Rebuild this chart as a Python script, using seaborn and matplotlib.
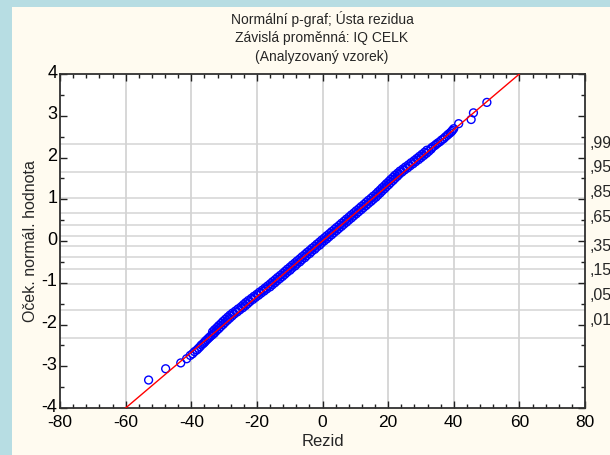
import matplotlib
matplotlib.use("Agg")
import matplotlib.pyplot as plt
import matplotlib.transforms as mtransforms
from matplotlib import font_manager
from matplotlib.patches import Rectangle
from matplotlib.ticker import MultipleLocator
from statistics import NormalDist
import numpy as np
import pandas as pd
import seaborn as sns

# ---------------- data ----------------
title_lines = ["Normální p-graf; Ústa rezidua",
               "Závislá proměnná: IQ CELK",
               "(Analyzovaný vzorek)"]
x_label = "Rezid"
y_label = "Oček. normál. hodnota"
x_ticks = [-80, -60, -40, -20, 0, 20, 40, 60, 80]
y_ticks = [-4, -3, -2, -1, 0, 1, 2, 3, 4]
prob_grid = [0.01, 0.05, 0.15, 0.25, 0.35, 0.45, 0.55, 0.65, 0.75, 0.85, 0.95, 0.99]
right_labels = [",99", ",95", ",85", ",65", ",35", ",15", ",05", ",01"]
resid_mean = 0.0
resid_sd = 15.0

tail_low_z = [-3.33, -3.06, -2.92, -2.82, -2.74, -2.70, -2.65, -2.61, -2.57, -2.53,
              -2.49, -2.46, -2.43, -2.40, -2.37, -2.34, -2.31, -2.28, -2.25, -2.22]
tail_low_r = [-53.0, -47.8, -43.2, -41.4, -40.3, -39.6, -39.0, -38.3, -37.8, -37.3,
              -36.9, -36.4, -36.0, -35.7, -35.3, -34.9, -34.5, -34.1, -33.6, -33.2]

band_z = [-2.200, -2.175, -2.150, -2.125, -2.100, -2.075, -2.050, -2.025, -2.000, -1.975,
          -1.950, -1.925, -1.900, -1.875, -1.850, -1.825, -1.800, -1.775, -1.750, -1.725,
          -1.700, -1.675, -1.650, -1.625, -1.600, -1.575, -1.550, -1.525, -1.500, -1.475,
          -1.450, -1.425, -1.400, -1.375, -1.350, -1.325, -1.300, -1.275, -1.250, -1.225,
          -1.200, -1.175, -1.150, -1.125, -1.100, -1.075, -1.050, -1.025, -1.000, -0.975,
          -0.950, -0.925, -0.900, -0.875, -0.850, -0.825, -0.800, -0.775, -0.750, -0.725,
          -0.700, -0.675, -0.650, -0.625, -0.600, -0.575, -0.550, -0.525, -0.500, -0.475,
          -0.450, -0.425, -0.400, -0.375, -0.350, -0.325, -0.300, -0.275, -0.250, -0.225,
          -0.200, -0.175, -0.150, -0.125, -0.100, -0.075, -0.050, -0.025, 0.000, 0.025,
          0.050, 0.075, 0.100, 0.125, 0.150, 0.175, 0.200, 0.225, 0.250, 0.275,
          0.300, 0.325, 0.350, 0.375, 0.400, 0.425, 0.450, 0.475, 0.500, 0.525,
          0.550, 0.575, 0.600, 0.625, 0.650, 0.675, 0.700, 0.725, 0.750, 0.775,
          0.800, 0.825, 0.850, 0.875, 0.900, 0.925, 0.950, 0.975, 1.000, 1.025,
          1.050, 1.075, 1.100, 1.125, 1.150, 1.175, 1.200, 1.225, 1.250, 1.275,
          1.300, 1.325, 1.350, 1.375, 1.400, 1.425, 1.450, 1.475, 1.500, 1.525,
          1.550, 1.575, 1.600, 1.625, 1.650, 1.675, 1.700, 1.725, 1.750, 1.775,
          1.800, 1.825, 1.850, 1.875, 1.900, 1.925, 1.950, 1.975, 2.000, 2.025,
          2.050, 2.075, 2.100, 2.125, 2.150, 2.175, 2.200]
band_r = [-32.9, -33.5, -32.3, -32.9, -31.6, -32.2, -31.0, -31.6, -30.3, -30.9,
          -29.7, -30.3, -29.0, -29.6, -28.3, -28.9, -27.6, -28.2, -26.9, -27.4,
          -26.0, -26.5, -25.2, -25.7, -24.3, -24.8, -23.5, -24.1, -22.8, -23.4,
          -22.1, -22.6, -21.2, -21.7, -20.4, -20.9, -19.5, -20.0, -18.7, -19.2,
          -17.8, -18.3, -17.0, -17.5,
          -16.0, -16.7, -15.3, -15.9, -14.5, -15.2, -13.8, -14.4, -13.0, -13.7,
          -12.2, -12.9, -11.5, -12.1, -10.8, -11.4, -9.9, -10.7, -9.3, -9.9,
          -8.4, -9.2, -7.8, -8.4, -6.9, -7.7, -6.3, -6.9, -5.4, -6.2,
          -4.8, -5.4, -3.9, -4.7, -3.3, -3.9, -2.4, -3.2, -1.8, -2.4,
          -0.9, -1.7, -0.3, -0.9, 0.5, -0.2, 1.3, 0.6, 2.0, 1.3,
          2.8, 2.1, 3.5, 2.8, 4.3, 3.6, 5.0, 4.3, 5.8, 5.1,
          6.5, 5.8, 7.3, 6.6, 8.0, 7.3, 8.8, 8.1, 9.5, 8.8,
          10.3, 9.6, 11.0, 10.3, 11.8, 11.1, 12.5, 11.8, 13.3, 12.6,
          14.0, 13.3, 14.8, 14.0, 15.5, 14.8, 16.3, 15.5, 16.9,
          16.3, 17.6, 16.9, 18.2, 17.6, 18.9, 18.2, 19.5, 18.9, 20.2,
          19.5, 20.8, 20.2, 21.5, 20.8, 22.1, 21.5, 22.8, 22.1, 23.4,
          22.9, 24.2, 23.6, 25.0, 24.5, 25.9, 25.3, 26.7, 26.2, 27.6,
          27.0, 28.4, 27.9, 29.3, 28.7, 30.1, 29.5, 30.9, 30.3, 31.7,
          31.1, 32.4, 31.8, 33.1]

tail_high_z = [2.23, 2.26, 2.29, 2.32, 2.35, 2.38, 2.42, 2.45, 2.49, 2.53,
               2.56, 2.59, 2.62, 2.65, 2.69, 2.81, 2.91, 3.07, 3.32]
tail_high_r = [33.2, 33.7, 34.3, 34.7, 35.2, 35.8, 36.3, 36.9, 37.4, 38.0,
               38.4, 38.9, 39.3, 39.6, 40.0, 41.5, 45.3, 46.0, 50.1]

# ---------------- build tables ----------------
df = pd.DataFrame({
    "resid": tail_low_r + band_r + tail_high_r,
    "expected": tail_low_z + band_z + tail_high_z,
})
line_x = np.array([x_ticks[0], x_ticks[-1]], dtype=float)
line_df = pd.DataFrame({"resid": line_x, "expected": (line_x - resid_mean) / resid_sd})

# ---------------- style ----------------
sns.set_style("white")
avail = {f.name for f in font_manager.fontManager.ttflist}
fam = [f for f in ["Liberation Sans Narrow", "Liberation Sans", "DejaVu Sans"] if f in avail]
plt.rcParams["font.family"] = fam

OUTER = "#b7dde3"
CREAM = "#fffbf0"
W, H = 610, 455

fig = plt.figure(figsize=(W / 100, H / 100), dpi=100)
fig.patch.set_facecolor(OUTER)
fig.patches.append(Rectangle((12 / W, 0), 1, 1 - 7 / H, transform=fig.transFigure,
                             facecolor=CREAM, edgecolor="none", zorder=-10))

left, right, top, bottom = 60, 585, 74, 408
ax = fig.add_axes([left / W, 1 - bottom / H, (right - left) / W, (bottom - top) / H])
ax.set_facecolor("white")

# grid
for xv in x_ticks[1:-1]:
    ax.axvline(xv, color="#d4d4d4", lw=1.3, zorder=0)
nd = NormalDist()
for p in prob_grid:
    ax.axhline(nd.inv_cdf(p), color="#d4d4d4", lw=1.1, zorder=0)

sns.scatterplot(data=df, x="resid", y="expected", ax=ax, marker="o", s=32,
                facecolors="none", edgecolor="#0000ff", linewidth=1.0, zorder=3,
                legend=False)
sns.lineplot(data=line_df, x="resid", y="expected", ax=ax, color="#ff0000",
             lw=1.0, zorder=4, legend=False)

ax.set_xlim(x_ticks[0], x_ticks[-1])
ax.set_ylim(y_ticks[0], y_ticks[-1])
ax.set_xticks(x_ticks)
ax.set_yticks(y_ticks)
ax.set_xticklabels([str(v) for v in x_ticks])
ax.set_yticklabels([str(v) for v in y_ticks])
ax.xaxis.set_minor_locator(MultipleLocator(4))
ax.yaxis.set_minor_locator(MultipleLocator(0.5))
ax.tick_params(which="both", direction="in", top=True, right=True,
               bottom=True, left=True, color="#202020", width=1.0)
ax.tick_params(which="major", length=5, labelcolor="black")
ax.tick_params(axis="x", which="major", pad=5, labelsize=12.5)
ax.tick_params(axis="y", which="major", pad=2, labelsize=13)
ax.tick_params(which="minor", length=3)
for s in ax.spines.values():
    s.set_color("#303030")
    s.set_linewidth(1.3)

# nudge y tick labels slightly upward, as in the reference
shift_up = mtransforms.ScaledTranslation(0, 3 / 100, fig.dpi_scale_trans)
for lab in ax.get_yticklabels():
    lab.set_transform(lab.get_transform() + shift_up)

ax.set_xlabel(x_label, fontsize=12)
ax.set_ylabel(y_label, fontsize=11.5)
ax.xaxis.set_label_coords(0.5, -(441 - bottom) / (bottom - top), transform=ax.transAxes)
ax.yaxis.set_label_coords(-(left - 31) / (right - left), 0.5, transform=ax.transAxes)
ax.xaxis.label.set_va("center")
ax.yaxis.label.set_va("center")

# right probability labels
trans = mtransforms.blended_transform_factory(ax.transAxes, ax.transData)
right_pos = [2.33, 1.76, 1.17, 0.57, -0.12, -0.70, -1.30, -1.90]
for lab, yv in zip(right_labels, right_pos):
    ax.text(1.008, yv, lab, transform=trans, fontsize=11.5, ha="left", va="center",
            clip_on=False)

# titles
for t, ypx in zip(title_lines, [19, 38, 57]):
    fig.text(322 / W, 1 - ypx / H, t, ha="center", va="center", fontsize=10)

fig.savefig("out.png", dpi=100, facecolor=fig.get_facecolor())
